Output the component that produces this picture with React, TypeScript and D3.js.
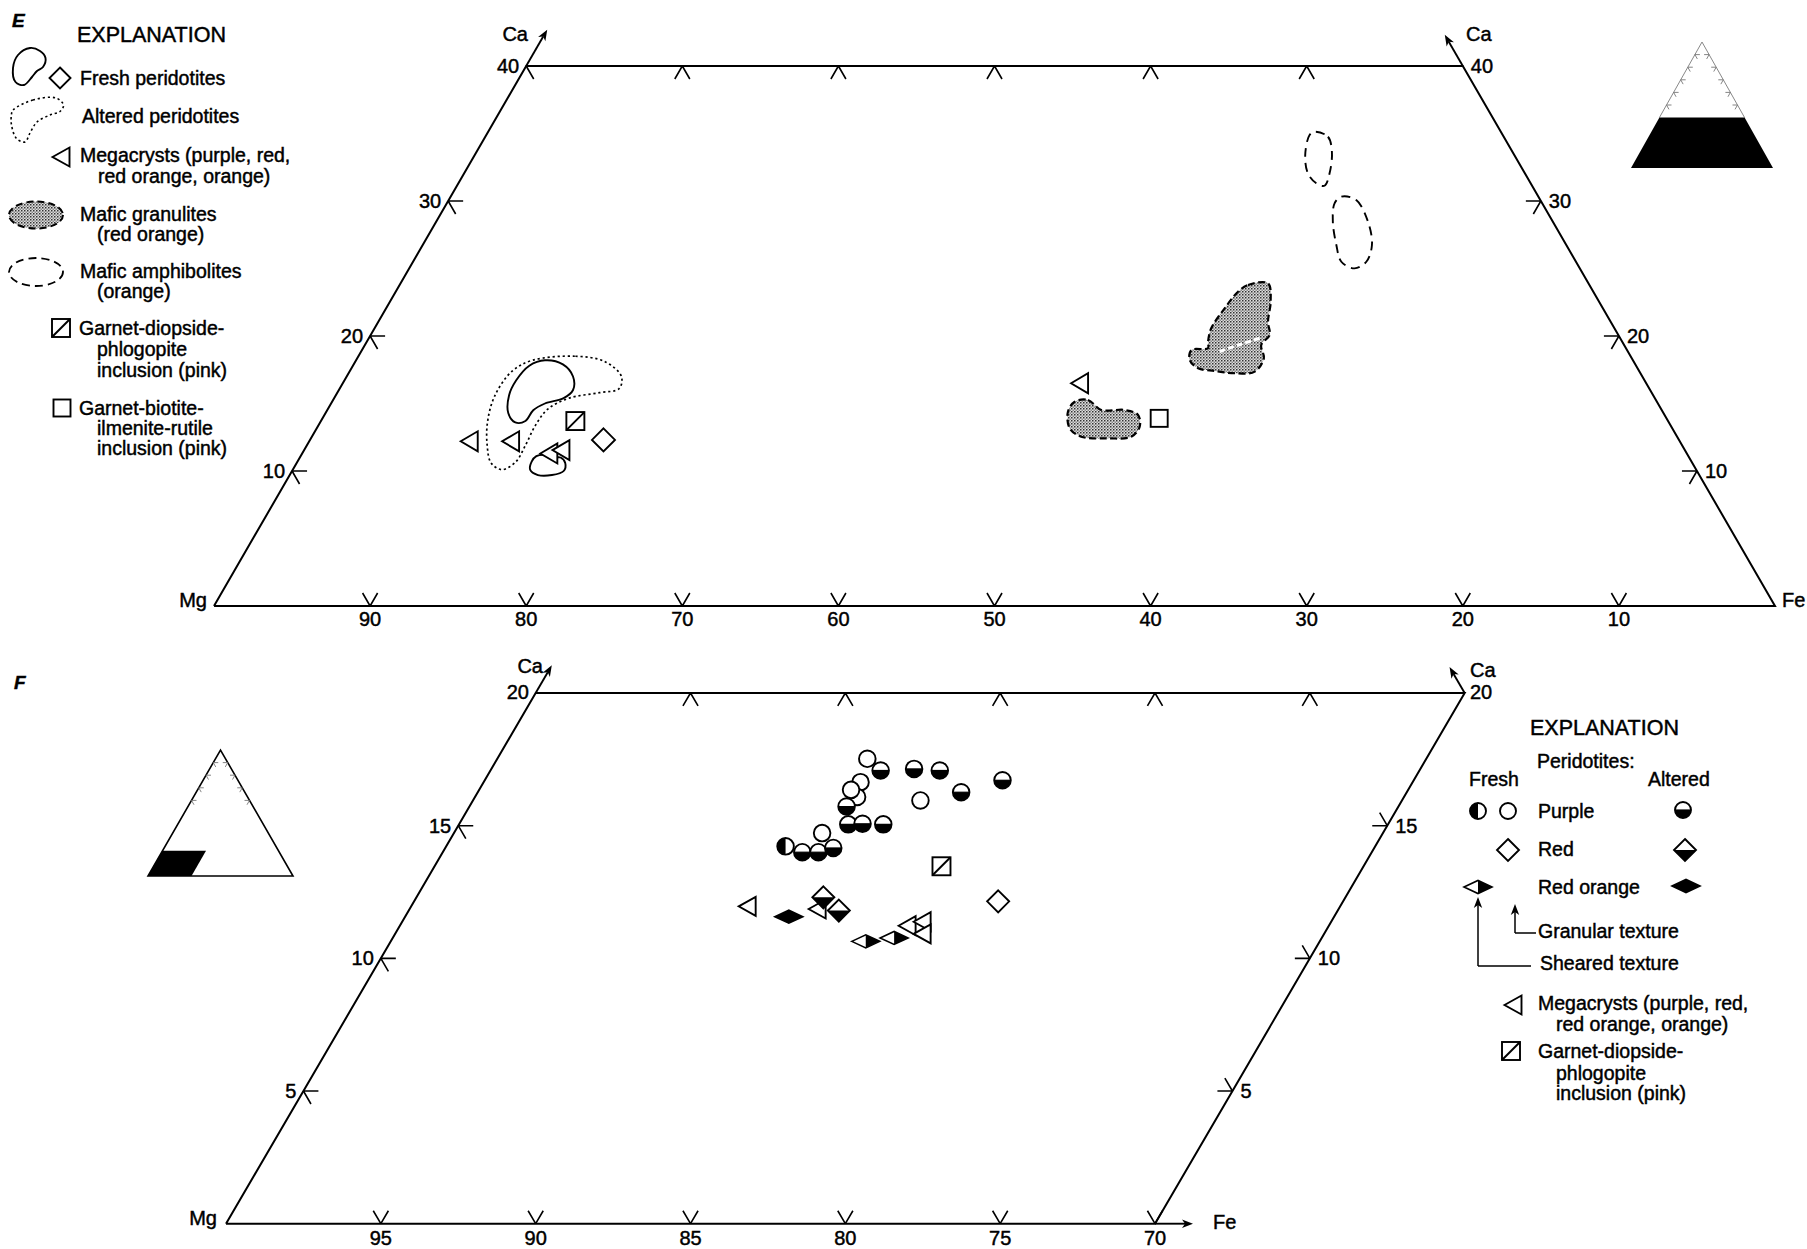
import React from "react";
import * as d3 from "d3";

type Pt = [number, number]; // [Fe, Ca] in atomic percent (Mg = 100 - Fe - Ca)

// ---------------- Panel E: Mg–Fe–Ca, Ca 0–40 ----------------
const eMgTicks = [90, 80, 70, 60, 50, 40, 30, 20, 10];
const eTopFeTicks = [10, 20, 30, 40, 50];
const eCaTicks = [10, 20, 30, 40];

const eFreshPeridotiteLarge: Pt[] = [
  [12.1, 18.2], [13.4, 17.9], [14.5, 17.0], [15.0, 16.0], [14.7, 15.4], [13.7, 15.0],
  [13.2, 14.5], [13.1, 13.7], [12.5, 13.6], [11.7, 14.3], [11.1, 15.6], [11.0, 16.7], [11.3, 17.8],
];
const eFreshPeridotiteSmall: Pt[] = [
  [15.0, 10.7], [15.1, 11.1], [15.6, 11.2], [16.2, 11.0], [16.7, 11.0], [17.2, 10.6],
  [17.4, 10.0], [16.8, 9.7], [15.9, 9.7], [15.2, 10.1],
];
const eAlteredPeridotite: Pt[] = [
  [11.3, 18.2], [13.9, 18.5], [16.0, 18.1], [17.6, 17.0], [17.9, 16.1], [16.8, 15.8],
  [15.05, 15.4], [14.1, 14.6], [13.9, 13.4], [14.0, 11.9], [14.0, 10.7], [13.4, 10.1],
  [12.45, 10.6], [11.55, 11.9], [10.7, 13.65], [10.2, 15.6], [10.4, 17.4],
];
const eGranuliteMain: Pt[] = [
  [53.96, 23.28], [54.35, 23.78], [55.57, 23.9], [56.42, 22.54], [56.99, 21.06], [57.59, 20.07],
  [57.42, 19.33], [58.08, 18.35], [57.99, 17.36], [56.77, 17.24], [55.41, 17.41], [54.24, 17.61],
  [53.4, 18.22], [53.13, 18.96], [54.13, 19.09], [53.89, 19.58], [53.6, 20.57], [53.72, 22.05],
];
const eGranuliteSeam: Pt[] = [[55.0, 18.85], [56.0, 19.35], [57.15, 19.87]];
const eGranuliteSmall: Pt[] = [
  [47.57, 15.13], [48.36, 15.26], [49.58, 14.52], [51.08, 14.52], [52.12, 14.15], [52.66, 13.28],
  [52.49, 12.54], [51.06, 12.42], [49.29, 12.54], [48.24, 13.16], [47.51, 14.39],
];
const eAmphiboliteUpper: Pt[] = [
  [52.94, 35.13], [53.98, 34.76], [54.79, 33.65], [55.44, 32.05], [55.58, 31.13],
  [54.96, 31.31], [54.05, 32.05], [53.2, 33.41], [52.74, 34.89],
];
const eAmphiboliteLower: Pt[] = [
  [57.06, 30.32], [58.14, 30.07], [59.69, 28.47], [60.81, 26.74], [61.07, 25.5],
  [60.56, 25.01], [59.47, 25.5], [58.53, 26.74], [57.44, 28.47], [56.87, 29.83],
];
const eMegacrysts: Pt[] = [[10.25, 12.2], [12.9, 12.2], [15.8, 11.3], [16.45, 11.55], [47.2, 16.5]];
const eGarnetDiopside: Pt[] = [[16.3, 13.7]];
const eFreshDiamond: Pt[] = [[18.8, 12.3]];
const eGarnetBiotite: Pt[] = [[53.6, 13.9]];

// ---------------- Panel F: Mg-rich corner, Fe 0–30, Ca 0–20 ----------------
const fMgTicks = [95, 90, 85, 80, 75, 70];
const fTopFeTicks = [5, 10, 15, 20, 25];
const fCaTicks = [5, 10, 15, 20];

const fPurpleSheared: Pt[] = [[10.96, 14.22]];
const fPurpleGranular: Pt[] = [
  [11.95, 17.52], [12.17, 16.64], [12.34, 16.08], [12.01, 16.35], [14.45, 15.95], [11.89, 14.72],
];
const fPurpleAltered: Pt[] = [
  [12.6, 17.08], [13.65, 17.14], [14.51, 17.08], [16.72, 16.71], [15.61, 16.26], [12.18, 15.72],
  [12.57, 15.05], [13.02, 15.07], [13.7, 15.05], [11.61, 14.0], [12.13, 14.0], [12.53, 14.16],
];
const fRedFresh: Pt[] = [[18.86, 12.15]];
const fRedAltered: Pt[] = [[13.14, 12.3], [13.89, 11.8]];
const fRedOrangeAltered: Pt[] = [[12.39, 11.57]];
const fRedOrangeSheared: Pt[] = [[15.34, 10.64], [16.19, 10.77]];
const fMegacrysts: Pt[] = [[10.85, 11.96], [13.16, 11.86], [16.38, 11.23], [16.79, 11.38], [17.02, 10.92]];
const fGarnetDiopside: Pt[] = [[16.37, 13.47]];

// ---------------- legend text ----------------
const eLegendLines: { x: number; y: number; t: string }[] = [
  { x: 80, y: 85, t: "Fresh peridotites" },
  { x: 82, y: 123, t: "Altered peridotites" },
  { x: 80, y: 162, t: "Megacrysts (purple, red," },
  { x: 98, y: 183, t: "red orange, orange)" },
  { x: 80, y: 221, t: "Mafic granulites" },
  { x: 97, y: 241, t: "(red orange)" },
  { x: 80, y: 278, t: "Mafic amphibolites" },
  { x: 97, y: 298, t: "(orange)" },
  { x: 79, y: 335, t: "Garnet-diopside-" },
  { x: 97, y: 356, t: "phlogopite" },
  { x: 97, y: 377, t: "inclusion (pink)" },
  { x: 79, y: 415, t: "Garnet-biotite-" },
  { x: 97, y: 435, t: "ilmenite-rutile" },
  { x: 97, y: 455, t: "inclusion (pink)" },
];
const fLegendLines: { x: number; y: number; t: string }[] = [
  { x: 1537, y: 768, t: "Peridotites:" },
  { x: 1469, y: 786, t: "Fresh" },
  { x: 1648, y: 786, t: "Altered" },
  { x: 1538, y: 818, t: "Purple" },
  { x: 1538, y: 856, t: "Red" },
  { x: 1538, y: 894, t: "Red orange" },
  { x: 1538, y: 938, t: "Granular texture" },
  { x: 1540, y: 970, t: "Sheared texture" },
  { x: 1538, y: 1010, t: "Megacrysts (purple, red," },
  { x: 1556, y: 1031, t: "red orange, orange)" },
  { x: 1538, y: 1058, t: "Garnet-diopside-" },
  { x: 1556, y: 1080, t: "phlogopite" },
  { x: 1556, y: 1100, t: "inclusion (pink)" },
];

const FONT = "'Liberation Sans', Arial, Helvetica, sans-serif";
const SW = 1.9;

type Proj = (p: Pt) => [number, number];

function makeProj(xa: number, xb: number, feSpan: number, ya: number, yb: number, caMax: number): Proj {
  const u = d3.scaleLinear().domain([0, feSpan]).range([xa, xb]);
  const v = d3.scaleLinear().domain([0, caMax]).range([ya, yb]);
  return ([fe, ca]) => [u(fe + ca / 2), v(ca)];
}

const projE = makeProj(214, 1775, 100, 606, 66, 40);
const projF = makeProj(226, 1155, 30, 1223.7, 693, 20);

const curve = (proj: Proj) =>
  d3
    .line<Pt>()
    .x((d) => proj(d)[0])
    .y((d) => proj(d)[1])
    .curve(d3.curveCatmullRomClosed.alpha(0.5));

const openLine = (proj: Proj) =>
  d3
    .line<Pt>()
    .x((d) => proj(d)[0])
    .y((d) => proj(d)[1])
    .curve(d3.curveCatmullRom.alpha(0.5));

function tickPath(proj: Proj, pts: Pt[], dirs: Pt[], len: number) {
  return pts
    .map((p) => {
      const [x, y] = proj(p);
      return dirs
        .map(([df, dc]) => {
          const [x2, y2] = proj([p[0] + df, p[1] + dc]);
          const dx = x2 - x;
          const dy = y2 - y;
          const n = Math.hypot(dx, dy);
          return `M${x},${y}L${x + (dx / n) * len},${y + (dy / n) * len}`;
        })
        .join("");
    })
    .join("");
}

function Arrow({ x1, y1, x2, y2, w = SW }: { x1: number; y1: number; x2: number; y2: number; w?: number }) {
  const a = Math.atan2(y2 - y1, x2 - x1);
  const L = 11;
  const hw = 4.2;
  const bx = x2 - Math.cos(a) * L;
  const by = y2 - Math.sin(a) * L;
  const px = -Math.sin(a) * hw;
  const py = Math.cos(a) * hw;
  return (
    <g>
      <line x1={x1} y1={y1} x2={bx + Math.cos(a) * 3} y2={by + Math.sin(a) * 3} stroke="#000" strokeWidth={w} />
      <path d={`M${x2},${y2}L${bx + px},${by + py}L${bx + Math.cos(a) * 3},${by + Math.sin(a) * 3}L${bx - px},${by - py}Z`} fill="#000" />
    </g>
  );
}

// ---------- symbols (pixel positions) ----------
function MegaTri({ x, y, w = 17, h = 19 }: { x: number; y: number; w?: number; h?: number }) {
  return (
    <path
      d={`M${x - w / 2},${y}L${x + w / 2},${y - h / 2}L${x + w / 2},${y + h / 2}Z`}
      fill="#fff"
      stroke="#000"
      strokeWidth={SW}
      strokeLinejoin="miter"
    />
  );
}

function Circ({ x, y, kind, r = 8.3 }: { x: number; y: number; kind: "open" | "altered" | "sheared"; r?: number }) {
  let half: React.ReactNode = null;
  if (kind === "altered") {
    half = (
      <>
        <path d={`M${x - r},${y}A${r},${r} 0 0 0 ${x + r},${y}Z`} fill="#000" />
        <line x1={x - r} y1={y} x2={x + r} y2={y} stroke="#000" strokeWidth={1.2} />
      </>
    );
  } else if (kind === "sheared") {
    half = <path d={`M${x},${y - r}A${r},${r} 0 0 0 ${x},${y + r}Z`} fill="#000" />;
  }
  return (
    <g>
      <circle cx={x} cy={y} r={r} fill="#fff" />
      {half}
      <circle cx={x} cy={y} r={r} fill="none" stroke="#000" strokeWidth={SW} />
    </g>
  );
}

function Diamond({ x, y, h = 11, lowerBlack = false }: { x: number; y: number; h?: number; lowerBlack?: boolean }) {
  return (
    <g>
      <path d={`M${x},${y - h}L${x + h},${y}L${x},${y + h}L${x - h},${y}Z`} fill="#fff" />
      {lowerBlack && <path d={`M${x - h},${y}L${x + h},${y}L${x},${y + h}Z`} fill="#000" />}
      <path d={`M${x},${y - h}L${x + h},${y}L${x},${y + h}L${x - h},${y}Z`} fill="none" stroke="#000" strokeWidth={SW} strokeLinejoin="miter" />
    </g>
  );
}

function FlatDiamond({ x, y, w = 28, h = 13, mode }: { x: number; y: number; w?: number; h?: number; mode: "black" | "rightBlack" }) {
  const hw = w / 2;
  const hh = h / 2;
  const outline = `M${x - hw},${y}L${x},${y - hh}L${x + hw},${y}L${x},${y + hh}Z`;
  return (
    <g>
      <path d={outline} fill={mode === "black" ? "#000" : "#fff"} />
      {mode === "rightBlack" && <path d={`M${x},${y - hh}L${x + hw},${y}L${x},${y + hh}Z`} fill="#000" />}
      <path d={outline} fill="none" stroke="#000" strokeWidth={1.6} strokeLinejoin="miter" />
    </g>
  );
}

function Square({ x, y, s = 18, diag = false }: { x: number; y: number; s?: number; diag?: boolean }) {
  return (
    <g>
      <rect x={x - s / 2} y={y - s / 2} width={s} height={s} fill="#fff" stroke="#000" strokeWidth={SW} />
      {diag && <line x1={x - s / 2} y1={y + s / 2} x2={x + s / 2} y2={y - s / 2} stroke="#000" strokeWidth={SW} />}
    </g>
  );
}

function Txt({ x, y, t, size = 19.5, anchor = "start", italic = false, bold = false }: { x: number; y: number; t: string; size?: number; anchor?: "start" | "middle" | "end"; italic?: boolean; bold?: boolean }) {
  return (
    <text
      x={x}
      y={y}
      fontSize={size}
      fontFamily={FONT}
      textAnchor={anchor}
      fontStyle={italic ? "italic" : "normal"}
      fontWeight={bold ? "bold" : "normal"}
      fill="#000"
      stroke="#000"
      strokeWidth={0.45}
    >
      {t}
    </text>
  );
}

// small ternary inset: whole triangle, with the plotted field blacked in
function Inset({ left, right, base, apex, field, upperGray, ticks }: { left: number; right: number; base: number; apex: number; field: Pt[]; upperGray: boolean; ticks: number[] }) {
  const proj = makeProj(left, right, 100, base, apex, 100);
  const tri: Pt[] = [[0, 0], [100, 0], [0, 100]];
  const poly = (pts: Pt[]) => "M" + pts.map((p) => proj(p).join(",")).join("L") + "Z";
  const ticksL = tickPath(proj, ticks.map((c) => [0, c] as Pt), [[1, 0], [1, -1]], 5);
  const ticksR = tickPath(proj, ticks.map((c) => [100 - c, c] as Pt), [[-1, 0], [0, -1]], 5);
  return (
    <g>
      {upperGray ? (
        <path d={`M${proj([0, 40]).join(",")}L${proj([0, 100]).join(",")}L${proj([60, 40]).join(",")}`} fill="none" stroke="#888" strokeWidth={1} />
      ) : (
        <path d={poly(tri)} fill="none" stroke="#000" strokeWidth={1.6} />
      )}
      <path d={poly(field)} fill="#000" />
      <path d={ticksL + ticksR} fill="none" stroke="#777" strokeWidth={0.9} />
    </g>
  );
}

export default function App() {
  const cE = curve(projE);
  const lE = openLine(projE);

  // --- axis frames ---
  const eFrame = [[0, 0], [100, 0], [60, 40], [0, 40], [0, 0]] as Pt[];
  const fFrame = [[0, 0], [30, 0], [30, 20], [0, 20], [0, 0]] as Pt[];
  const frame = (proj: Proj, pts: Pt[]) => "M" + pts.map((p) => proj(p).join(",")).join("L");

  const eTicks =
    tickPath(projE, eMgTicks.map((m) => [100 - m, 0] as Pt), [[0, 1], [-1, 1]], 15) +
    tickPath(projE, eTopFeTicks.map((f) => [f, 40] as Pt), [[0, -1], [1, -1]], 15) +
    tickPath(projE, eCaTicks.map((c) => [0, c] as Pt), [[1, 0], [1, -1]], 15) +
    tickPath(projE, eCaTicks.slice(0, 3).map((c) => [100 - c, c] as Pt), [[-1, 0], [0, -1]], 15);
  const fTicks =
    tickPath(projF, fMgTicks.map((m) => [100 - m, 0] as Pt), [[0, 1], [-1, 1]], 15) +
    tickPath(projF, fTopFeTicks.map((f) => [f, 20] as Pt), [[0, -1], [1, -1]], 15) +
    tickPath(projF, fCaTicks.slice(0, 3).map((c) => [0, c] as Pt), [[1, 0], [1, -1]], 15) +
    tickPath(projF, fCaTicks.slice(0, 3).map((c) => [30, c] as Pt), [[-1, 0], [-1, 1]], 15);

  const eTL = projE([0, 40]);
  const eTR = projE([60, 40]);
  const fTL = projF([0, 20]);
  const fTR = projF([30, 20]);
  const fFe = projF([30, 0]);

  const arrowTip = (proj: Proj, from: Pt, dir: Pt, len: number) => {
    const [x, y] = proj(from);
    const [x2, y2] = proj([from[0] + dir[0], from[1] + dir[1]]);
    const n = Math.hypot(x2 - x, y2 - y);
    return [x + ((x2 - x) / n) * len, y + ((y2 - y) / n) * len];
  };
  const eArrL = arrowTip(projE, [0, 40], [0, 1], 42);
  const eArrR = arrowTip(projE, [60, 40], [-1, 1], 36);
  const fArrL = arrowTip(projF, [0, 20], [0, 1], 32);
  const fArrR = arrowTip(projF, [30, 20], [-1, 1], 30);

  return (
    <svg width={1807} height={1249} viewBox="0 0 1807 1249" style={{ position: "absolute", left: 0, top: 0, background: "#fff" }}>
      <defs>
        <pattern id="stipple" width={3} height={3} patternUnits="userSpaceOnUse">
          <rect width={3} height={3} fill="#dedede" />
          <rect width={1.5} height={1.5} fill="#333" />
          <rect x={1.5} y={1.5} width={1.5} height={1.5} fill="#8a8a8a" />
        </pattern>
      </defs>
      <rect width={1807} height={1249} fill="#fff" />

      {/* ================= Panel E ================= */}
      <Txt x={12} y={27} t="E" size={19} italic bold />
      <Txt x={77} y={42} t="EXPLANATION" size={21.5} />
      {eLegendLines.map((l, i) => (
        <Txt key={i} x={l.x} y={l.y} t={l.t} />
      ))}
      {/* legend glyphs */}
      <path
        d={
          d3.line().curve(d3.curveCatmullRomClosed.alpha(0.5))([
            [30, 48], [40, 51], [45.5, 58], [43, 67], [37, 71], [32, 77], [24, 85], [15.5, 82], [13, 68], [18, 55],
          ]) || ""
        }
        fill="none"
        stroke="#000"
        strokeWidth={SW}
      />
      <Diamond x={60} y={78} h={10.5} />
      <path
        d={
          d3.line().curve(d3.curveCatmullRomClosed.alpha(0.5))([
            [13, 110], [33, 100], [56, 98], [63.5, 105], [60, 111.5], [50, 115], [37, 122], [30, 133], [25, 142], [16.5, 138.5], [11.5, 125], [11.5, 114],
          ]) || ""
        }
        fill="none"
        stroke="#000"
        strokeWidth={1.6}
        strokeDasharray="2.2,2.8"
      />
      <MegaTri x={61} y={157} w={17} h={19} />
      <ellipse cx={36} cy={215} rx={27} ry={13.5} fill="url(#stipple)" stroke="#000" strokeWidth={2} strokeDasharray="7,4" />
      <ellipse cx={36} cy={272} rx={27} ry={14} fill="none" stroke="#000" strokeWidth={1.8} strokeDasharray="8,5" />
      <Square x={61} y={328} s={18} diag />
      <Square x={62} y={408} s={17} />

      {/* frame and axes */}
      <path d={frame(projE, eFrame)} fill="none" stroke="#000" strokeWidth={2} />
      <path d={eTicks} fill="none" stroke="#000" strokeWidth={1.6} />
      <Arrow x1={eTL[0]} y1={eTL[1]} x2={eArrL[0]} y2={eArrL[1]} />
      <Arrow x1={eTR[0]} y1={eTR[1]} x2={eArrR[0]} y2={eArrR[1]} />
      <Txt x={528} y={41} t="Ca" size={20} anchor="end" />
      <Txt x={1466} y={41} t="Ca" size={20} />
      <Txt x={207} y={607} t="Mg" size={20} anchor="end" />
      <Txt x={1782} y={607} t="Fe" size={20} />
      {eMgTicks.map((m) => {
        const [x, y] = projE([100 - m, 0]);
        return <Txt key={m} x={x} y={y + 20} t={String(m)} size={20} anchor="middle" />;
      })}
      {eCaTicks.map((c) => {
        const [x, y] = projE([0, c]);
        return <Txt key={"l" + c} x={x - 7} y={y + 7} t={String(c)} size={20} anchor="end" />;
      })}
      {eCaTicks.map((c) => {
        const [x, y] = projE([100 - c, c]);
        return <Txt key={"r" + c} x={x + 8} y={y + 7} t={String(c)} size={20} />;
      })}

      {/* fields */}
      <path d={cE(eAlteredPeridotite) || ""} fill="none" stroke="#000" strokeWidth={1.7} strokeDasharray="2.2,2.8" />
      <path d={cE(eFreshPeridotiteLarge) || ""} fill="none" stroke="#000" strokeWidth={SW} />
      <path d={cE(eFreshPeridotiteSmall) || ""} fill="#fff" stroke="#000" strokeWidth={SW} />
      <path d={cE(eGranuliteMain) || ""} fill="url(#stipple)" stroke="#000" strokeWidth={2.2} strokeDasharray="7,3.5" />
      <path d={lE(eGranuliteSeam) || ""} fill="none" stroke="#fff" strokeWidth={3} strokeDasharray="6,3" />
      <path d={cE(eGranuliteSmall) || ""} fill="url(#stipple)" stroke="#000" strokeWidth={2.2} strokeDasharray="7,3.5" />
      <path d={cE(eAmphiboliteUpper) || ""} fill="none" stroke="#000" strokeWidth={1.9} strokeDasharray="9,6" />
      <path d={cE(eAmphiboliteLower) || ""} fill="none" stroke="#000" strokeWidth={1.9} strokeDasharray="9,6" />
      {eGarnetDiopside.map((p, i) => {
        const [x, y] = projE(p);
        return <Square key={i} x={x} y={y} s={18} diag />;
      })}
      {eFreshDiamond.map((p, i) => {
        const [x, y] = projE(p);
        return <Diamond key={i} x={x} y={y} h={11.5} />;
      })}
      {eGarnetBiotite.map((p, i) => {
        const [x, y] = projE(p);
        return <Square key={i} x={x} y={y} s={17} />;
      })}
      {eMegacrysts.map((p, i) => {
        const [x, y] = projE(p);
        return <MegaTri key={i} x={x} y={y} w={17} h={20} />;
      })}

      <Inset left={1631} right={1773} base={168} apex={42} field={[[0, 0], [100, 0], [60, 40], [0, 40]]} upperGray ticks={[50, 60, 70, 80, 90]} />

      {/* ================= Panel F ================= */}
      <Txt x={14} y={689} t="F" size={19} italic bold />
      <path d={frame(projF, fFrame)} fill="none" stroke="#000" strokeWidth={2} />
      <path d={fTicks} fill="none" stroke="#000" strokeWidth={1.6} />
      <Arrow x1={fTL[0]} y1={fTL[1]} x2={fArrL[0]} y2={fArrL[1]} />
      <Arrow x1={fTR[0]} y1={fTR[1]} x2={fArrR[0]} y2={fArrR[1]} />
      <Arrow x1={fFe[0]} y1={fFe[1]} x2={fFe[0] + 38} y2={fFe[1]} />
      <Txt x={543} y={673} t="Ca" size={20} anchor="end" />
      <Txt x={1470} y={677} t="Ca" size={20} />
      <Txt x={1470} y={699} t="20" size={20} />
      <Txt x={529} y={699} t="20" size={20} anchor="end" />
      <Txt x={217} y={1225} t="Mg" size={20} anchor="end" />
      <Txt x={1213} y={1229} t="Fe" size={20} />
      {fMgTicks.map((m) => {
        const [x, y] = projF([100 - m, 0]);
        return <Txt key={m} x={x} y={y + 21} t={String(m)} size={20} anchor="middle" />;
      })}
      {fCaTicks.slice(0, 3).map((c) => {
        const [x, y] = projF([0, c]);
        return <Txt key={"l" + c} x={x - 7} y={y + 7} t={String(c)} size={20} anchor="end" />;
      })}
      {fCaTicks.slice(0, 3).map((c) => {
        const [x, y] = projF([30, c]);
        return <Txt key={"r" + c} x={x + 8} y={y + 7} t={String(c)} size={20} />;
      })}

      {/* peridotites and inclusions */}
      {fPurpleGranular.map((p, i) => {
        const [x, y] = projF(p);
        return <Circ key={"g" + i} x={x} y={y} kind="open" />;
      })}
      {fPurpleSheared.map((p, i) => {
        const [x, y] = projF(p);
        return <Circ key={"s" + i} x={x} y={y} kind="sheared" />;
      })}
      {fPurpleAltered.map((p, i) => {
        const [x, y] = projF(p);
        return <Circ key={"a" + i} x={x} y={y} kind="altered" />;
      })}
      {fGarnetDiopside.map((p, i) => {
        const [x, y] = projF(p);
        return <Square key={i} x={x} y={y} s={18} diag />;
      })}
      {fRedFresh.map((p, i) => {
        const [x, y] = projF(p);
        return <Diamond key={i} x={x} y={y} h={11} />;
      })}
      {fMegacrysts.slice(0, 2).map((p, i) => {
        const [x, y] = projF(p);
        return <MegaTri key={"m" + i} x={x} y={y} w={17} h={19} />;
      })}
      {fRedAltered.map((p, i) => {
        const [x, y] = projF(p);
        return <Diamond key={i} x={x} y={y} h={11} lowerBlack />;
      })}
      {fRedOrangeAltered.map((p, i) => {
        const [x, y] = projF(p);
        return <FlatDiamond key={i} x={x} y={y} mode="black" />;
      })}
      {fRedOrangeSheared.map((p, i) => {
        const [x, y] = projF(p);
        return <FlatDiamond key={i} x={x} y={y} mode="rightBlack" />;
      })}
      {fMegacrysts.slice(2).map((p, i) => {
        const [x, y] = projF(p);
        return <MegaTri key={"n" + i} x={x} y={y} w={17} h={19} />;
      })}

      {/* legend F */}
      <Txt x={1530} y={735} t="EXPLANATION" size={21.5} />
      {fLegendLines.map((l, i) => (
        <Txt key={i} x={l.x} y={l.y} t={l.t} />
      ))}
      <Circ x={1478} y={811} kind="sheared" r={8} />
      <Circ x={1508} y={811} kind="open" r={8} />
      <Circ x={1683} y={810} kind="altered" r={8} />
      <Diamond x={1508} y={850} h={11} />
      <Diamond x={1685} y={850} h={11} lowerBlack />
      <FlatDiamond x={1478} y={887} mode="rightBlack" />
      <FlatDiamond x={1686} y={886} mode="black" />
      <path d="M1515,933L1536,933M1478,966L1531,966" fill="none" stroke="#000" strokeWidth={1.5} />
      <Arrow x1={1515} y1={933} x2={1515} y2={904} w={1.5} />
      <Arrow x1={1478} y1={966} x2={1478} y2={897} w={1.5} />
      <MegaTri x={1513} y={1005} w={17} h={19} />
      <Square x={1511} y={1051} s={18} diag />

      <Inset left={148} right={293} base={876} apex={750} field={[[0, 0], [30, 0], [30, 20], [0, 20]]} upperGray={false} ticks={[60, 70, 80, 90]} />
    </svg>
  );
}
